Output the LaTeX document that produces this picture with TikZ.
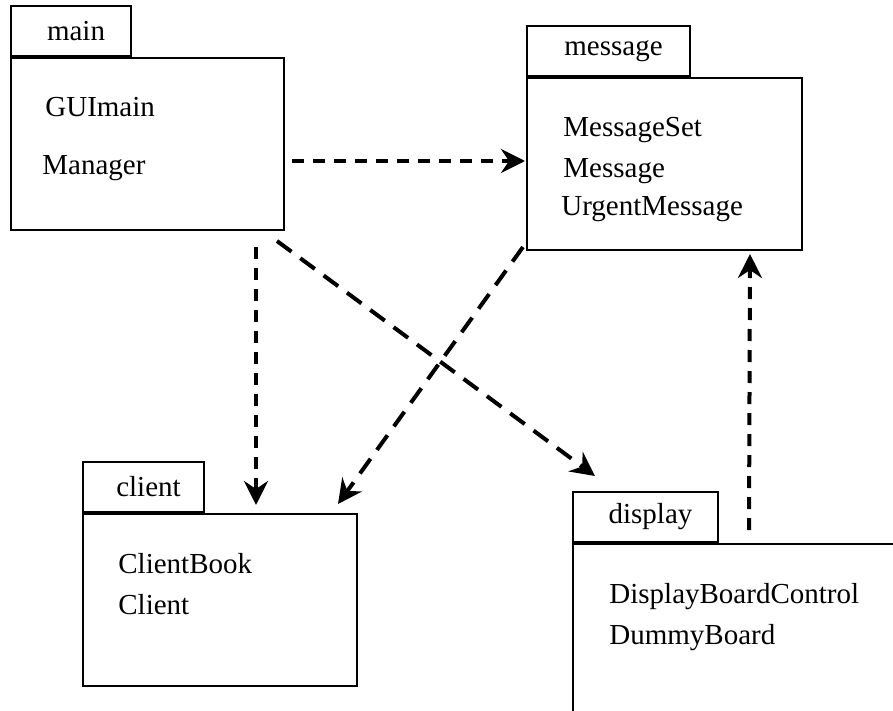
\documentclass[tikz,border=0pt]{standalone}
\usepackage{fontspec}
\setmainfont{Liberation Serif}
\usetikzlibrary{arrows.meta}

\tikzset{
  pkg/.style={draw, line width=1pt, anchor=north west, inner sep=0pt},
  pkgtab/.style={draw, line width=1pt, anchor=south west, minimum height=25pt,
    inner sep=0pt, font=\fontsize{14.5}{17}\selectfont},
  cls/.style={anchor=base west, inner sep=0pt, font=\fontsize{14.5}{17}\selectfont},
  dep/.style={line width=2pt, dash pattern=on 6pt off 4.5pt,
    -{Stealth[length=12pt,width=12pt,inset=4pt]}},
  longdash/.style={dash pattern=on 9pt off 5.5pt},
}

\begin{document}
\begin{tikzpicture}[x=0.5pt,y=-0.5pt]
  \clip (0,0) rectangle (893,711);
  % packages
  \node[pkg, minimum width=136.5pt, minimum height=86pt] (main) at (10,57) {};
  \node[pkgtab, minimum width=60pt] (maintab) at (main.north west) {\hspace*{5pt}main};
  \node[pkg, minimum width=137.5pt, minimum height=86pt] (message) at (526,77) {};
  \node[pkgtab, minimum width=81.5pt] (messagetab) at (message.north west) {\hspace*{5pt}message};
  \node[pkg, minimum width=137pt, minimum height=86pt] (client) at (82,513) {};
  \node[pkgtab, minimum width=60.5pt] (clienttab) at (client.north west) {\hspace*{5pt}client};
  \node[pkg, minimum width=165pt, minimum height=90pt] (display) at (572,543) {};
  \node[pkgtab, minimum width=72.5pt] (displaytab) at (display.north west) {\hspace*{5pt}display};

  % classes
  \node[cls] (guimain) at ([shift={(35,60)}]main.north west) {GUImain};
  \node[cls] (manager) at ([shift={(32,118)}]main.north west) {Manager};
  \node[cls] (msgset) at ([shift={(37,60)}]message.north west) {MessageSet};
  \node[cls] (msg) at ([shift={(37,101)}]message.north west) {Message};
  \node[cls] (urgent) at ([shift={(35,138)}]message.north west) {UrgentMessage};
  \node[cls] (book) at ([shift={(36,60)}]client.north west) {ClientBook};
  \node[cls] (clnt) at ([shift={(36,101)}]client.north west) {Client};
  \node[cls] (board) at ([shift={(37,60)}]display.north west) {DisplayBoardControl};
  \node[cls] (dummy) at ([shift={(37,101)}]display.north west) {DummyBoard};

  % dependencies
  \draw[dep] ([shift={(7,17)}]main.east) -- ([shift={(-1,-3)}]message.west);
  \draw[dep] ([shift={(108.5,16)}]main.south) -- ([shift={(36,-8)}]client.north);
  \draw[dep, longdash] ([shift={(-8,10)}]main.south east)
    -- ([shift={(23,-15)}]displaytab.north west);
  \draw[dep, longdash] ([shift={(-3,-4)}]message.south west)
    -- ([shift={(-20,-9)}]client.north east);
  \draw[dep] ([shift={(177,-13)}]display.north west) -- ([shift={(85.5,3)}]message.south);
\end{tikzpicture}
\end{document}
